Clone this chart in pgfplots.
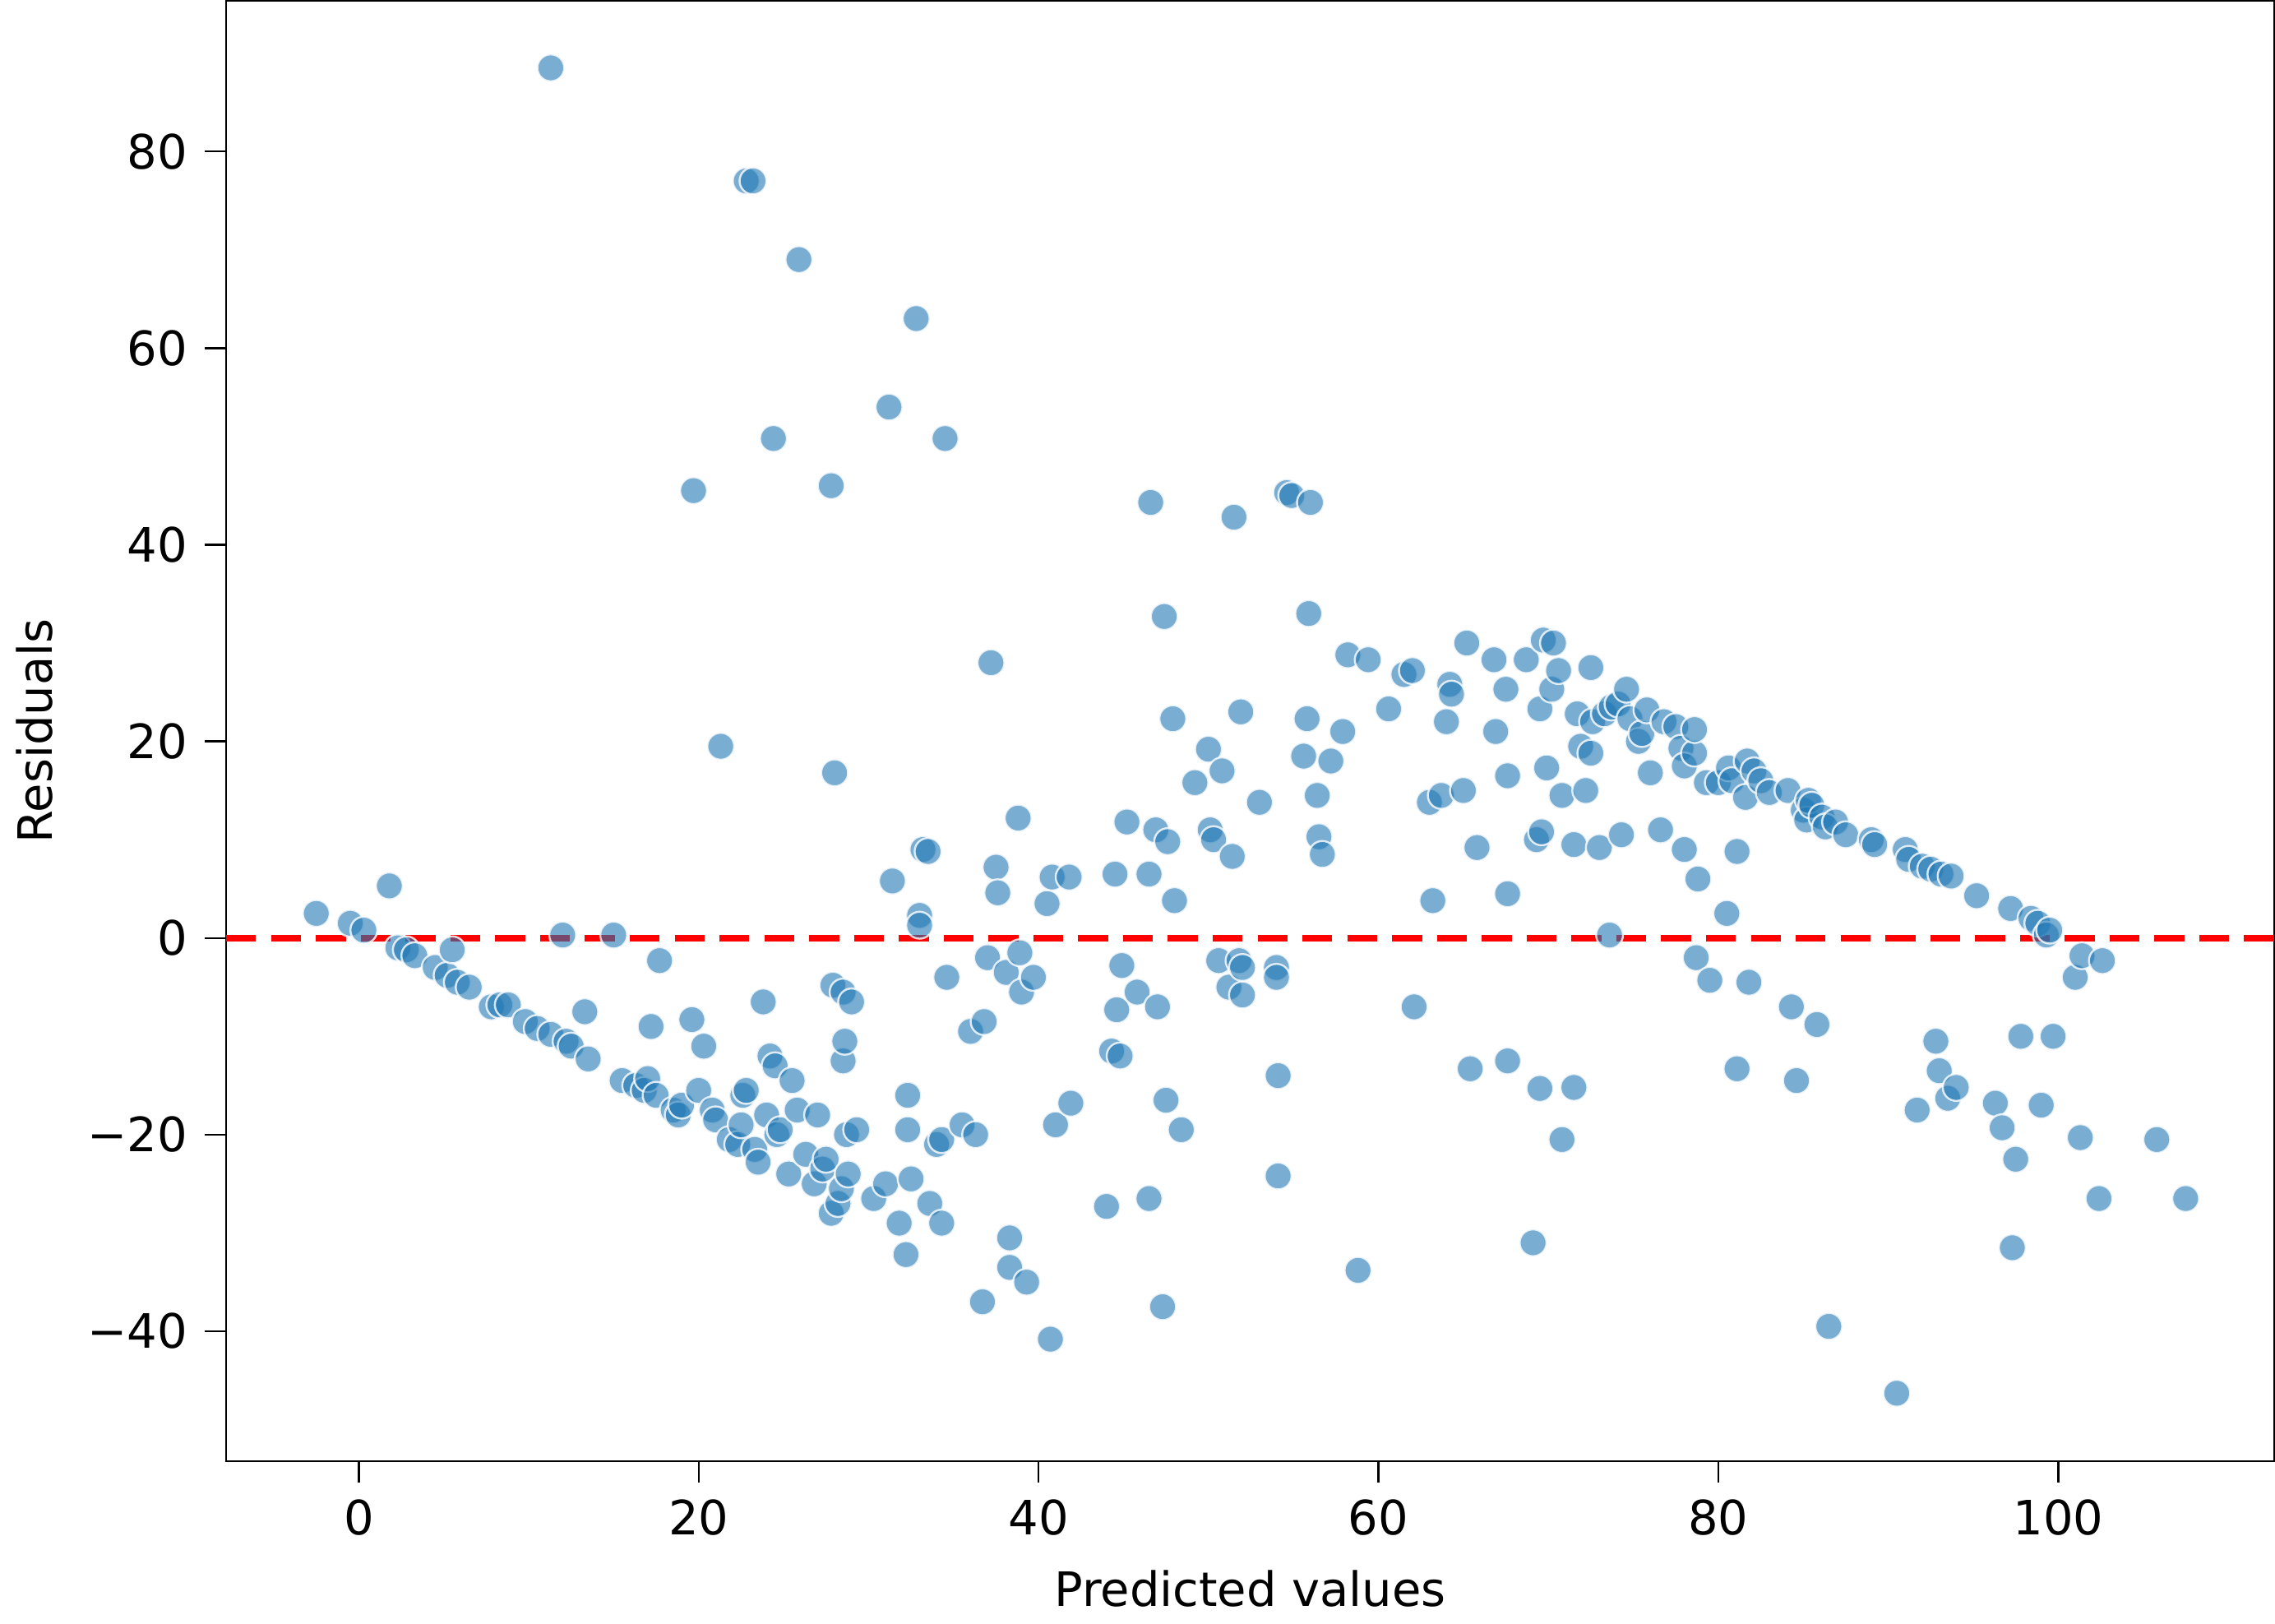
\documentclass[border=0pt]{standalone}
\usepackage{pgfplots}
\pgfplotsset{compat=1.18}
\usepackage{fontspec}
\setmainfont{DejaVu Sans}
\definecolor{tabblue}{HTML}{1F77B4}
\begin{document}
\begin{tikzpicture}
\begin{axis}[
  scale only axis, width=411pt, height=293pt,
  xmin=-7.8, xmax=112.7, ymin=-53.2, ymax=95.3,
  xtick={0,20,40,60,80,100}, ytick={-40,-20,0,20,40,60,80},
  xticklabels={0,20,40,60,80,100},
  yticklabels={−40,−20,0,20,40,60,80},
  tick align=outside, tick style={black, thin},
  xtick pos=bottom, ytick pos=left,
  xlabel={Predicted values}, ylabel={Residuals},
  ticklabel style={font=\fontsize{9.5}{11}\selectfont},
  label style={font=\fontsize{9.5}{11}\selectfont},
  axis line style={black, thin},
]
\addplot[only marks, mark=*, mark size=2.7pt,
  mark options={fill=tabblue, fill opacity=0.6, draw=white, draw opacity=0.8, line width=0.4pt}]
coordinates {
(-2.5,2.5)(-0.5,1.5)(0.3,0.8)(1.8,5.3)(2.3,-1)(2.8,-1.2)(3.3,-1.8)(4.5,-3)(5.2,-3.8)(5.5,-1.2)(5.8,-4.5)(6.5,-5)(7.8,-7)(8.3,-6.8)(8.8,-6.8)(9.8,-8.5)(10.5,-9.2)(11.3,-9.8)(11.3,88.5)(12,0.3)(12.2,-10.5)(12.5,-11)(13.3,-7.5)(13.5,-12.3)(15,0.3)(15.5,-14.5)(16.3,-15)(16.8,-15.5)(17,-14.3)(17.2,-9)(17.5,-16)(17.7,-2.3)(18.5,-17.5)(18.8,-18)(19,-17)(19.6,-8.3)(19.7,45.5)(20,-15.5)(20.3,-11)(20.8,-17.5)(21,-18.5)(21.3,19.5)(21.8,-20.5)(22.3,-21)(22.5,-19)(22.6,-16)(22.8,-15.5)(22.8,77)(23.2,77)(23.3,-21.5)(23.5,-22.8)(23.8,-6.5)(24,-18)(24.2,-12)(24.4,50.8)(24.5,-13)(24.6,-20)(24.8,-19.5)(25.3,-24)(25.5,-14.5)(25.8,-17.5)(25.9,69)(26.3,-22)(26.8,-25)(27,-18)(27.3,-23.5)(27.5,-22.5)(27.8,46)(27.8,-28)(27.9,-4.8)(28,16.8)(28.2,-27)(28.4,-25.5)(28.5,-5.5)(28.5,-12.5)(28.6,-10.5)(28.7,-20)(28.8,-24)(29,-6.5)(29.3,-19.5)(30.3,-26.5)(31,-25)(31.2,54)(31.4,5.8)(31.8,-29)(32.2,-32.2)(32.3,-16)(32.3,-19.5)(32.5,-24.5)(32.8,63)(33,2.3)(33,1.3)(33.2,9)(33.5,8.8)(33.6,-27)(34,-21)(34.3,-20.5)(34.3,-29)(34.5,50.8)(34.6,-4)(35.5,-19)(36,-9.5)(36.3,-20)(36.7,-37)(36.8,-8.5)(37,-2)(37.2,28)(37.5,7.2)(37.6,4.6)(38.1,-3.5)(38.3,-30.5)(38.3,-33.5)(38.8,12.2)(38.9,-1.5)(39,-5.5)(39.3,-35)(39.7,-4)(40.5,3.5)(40.7,-40.8)(40.8,6.2)(41,-19)(41.8,6.2)(41.9,-16.8)(44,-27.3)(44.3,-11.5)(44.5,6.5)(44.6,-7.3)(44.8,-12)(44.9,-2.8)(45.2,11.8)(45.8,-5.5)(46.5,-26.5)(46.5,6.5)(46.6,44.3)(46.9,11)(47,-7)(47.3,-37.5)(47.4,32.7)(47.5,-16.5)(47.6,9.8)(47.9,22.3)(48,3.8)(48.4,-19.5)(49.2,15.8)(50,19.2)(50.1,11)(50.3,10)(50.6,-2.3)(50.8,17)(51.2,-5)(51.4,8.3)(51.5,42.8)(51.8,-2.3)(51.9,23)(52,-3)(52,-5.8)(53,13.8)(54,-3)(54,-4)(54.1,-14)(54.1,-24.2)(54.6,45.3)(54.9,45)(55.6,18.5)(55.8,22.3)(55.9,33)(56,44.3)(56.4,14.5)(56.5,10.3)(56.7,8.5)(57.2,18)(57.9,21)(58.2,28.8)(58.8,-33.8)(59.4,28.3)(60.6,23.3)(61.5,26.8)(62,27.2)(62.1,-7)(63,13.8)(63.2,3.8)(63.7,14.5)(64,22)(64.2,25.8)(64.3,24.8)(65,15)(65.2,30)(65.4,-13.3)(65.8,9.2)(66.8,28.3)(66.9,21)(67.5,25.3)(67.6,16.5)(67.6,4.5)(67.6,-12.5)(68.7,28.3)(69.1,-31)(69.3,10)(69.5,23.3)(69.5,-15.3)(69.6,10.8)(69.7,30.3)(69.9,17.3)(70.2,25.3)(70.3,30)(70.6,27.2)(70.8,14.5)(70.8,-20.5)(71.5,-15.2)(71.5,9.5)(71.7,22.8)(71.9,19.5)(72.2,15)(72.5,18.8)(72.5,27.5)(72.6,22)(73,9.2)(73.3,22.8)(73.6,0.3)(73.7,23.5)(74.1,23.8)(74.3,10.5)(74.6,25.3)(74.8,22.3)(75.3,20)(75.5,20.8)(75.8,23.2)(76,16.8)(76.6,11)(76.8,22)(77.5,21.5)(77.8,19.3)(78,17.5)(78,9)(78.6,18.8)(78.6,21.2)(78.7,-2)(78.8,6)(79.3,15.8)(79.5,-4.3)(80,15.8)(80.5,2.5)(80.6,17.3)(80.8,16)(81.1,-13.3)(81.1,8.8)(81.6,14.3)(81.7,18)(81.8,-4.5)(82.1,17)(82.5,16)(83,14.8)(84.1,15)(84.3,-7)(84.6,-14.5)(85,13)(85.2,12)(85.3,14)(85.5,13.5)(85.8,-8.8)(86.1,12.3)(86.3,11.3)(86.5,-39.5)(86.9,11.8)(87.5,10.5)(89,10)(89.2,9.5)(90.5,-46.3)(91,9)(91.2,8)(91.7,-17.5)(92,7.3)(92.5,7)(92.8,-10.5)(93,-13.5)(93.1,6.5)(93.5,-16.3)(93.7,6.3)(94,-15.2)(95.2,4.3)(96.3,-16.8)(96.7,-19.3)(97.2,3)(97.3,-31.5)(97.5,-22.5)(97.8,-10)(98.4,2)(98.8,1.5)(99,-17)(99.3,0.3)(99.5,0.8)(99.7,-10)(101,-4)(101.3,-20.3)(101.4,-1.8)(102.4,-26.5)(102.6,-2.3)(105.8,-20.5)(107.5,-26.5)
};
\addplot[red, line width=1.3pt, dash pattern=on 6pt off 3pt] coordinates {(-7.8,0)(112.7,0)};
\end{axis}
\end{tikzpicture}
\end{document}
